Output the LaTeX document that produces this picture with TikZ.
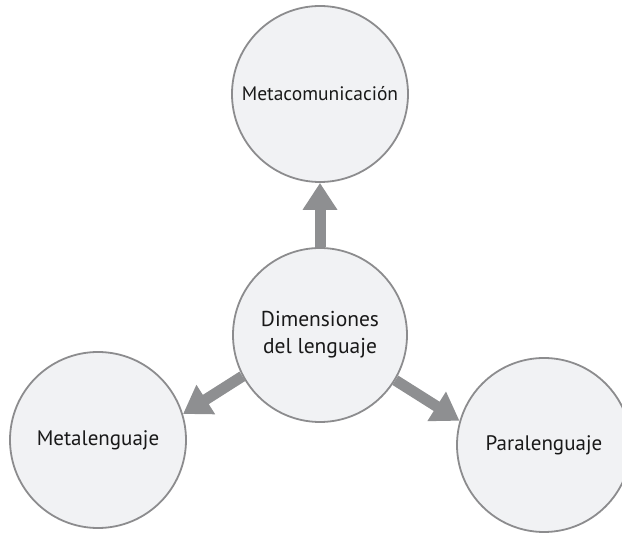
\documentclass[tikz,border=0pt]{standalone}
\usepackage{fontspec}
\setmainfont{PT Sans}
\usetikzlibrary{arrows.meta}
\definecolor{bubblefill}{HTML}{F1F2F4}
\definecolor{bubbleline}{HTML}{8C8C8E}
\definecolor{arrowgray}{HTML}{8E8F91}
\begin{document}
\begin{tikzpicture}[x=1pt,y=1pt,
  bubble/.style={circle, draw=bubbleline, line width=1.8pt, fill=bubblefill,
    inner sep=0pt, align=center, text=black!90},
  flow/.style={draw=arrowgray, line width=11pt,
    -{Triangle[width=33pt,length=27pt,fill=arrowgray]}}]
  \useasboundingbox (0,0) rectangle (622,533);
  % the four circles
  \node[bubble, minimum size=176pt, font=\fontsize{19.5}{24}\selectfont] (meta) at (320,439) {Metacomunicación};
  \node[bubble, minimum size=174pt, font=\fontsize{21.5}{27}\selectfont] (dim) at (320,198) {Dimensiones\\del lenguaje};
  \node[bubble, minimum size=176pt, font=\fontsize{21}{25}\selectfont] (metal) at (98,93) {Metalenguaje};
  \node[bubble, minimum size=174pt, font=\fontsize{21}{25}\selectfont] (para) at (544,88) {Paralenguaje};
  % arrows from the centre outwards
  \draw[flow] (dim.90) -- (meta.270);
  \draw[flow] (dim.208.6) -- (metal.17.8);
  \draw[flow] (dim.329.5) -- (para.164.7);
\end{tikzpicture}
\end{document}
